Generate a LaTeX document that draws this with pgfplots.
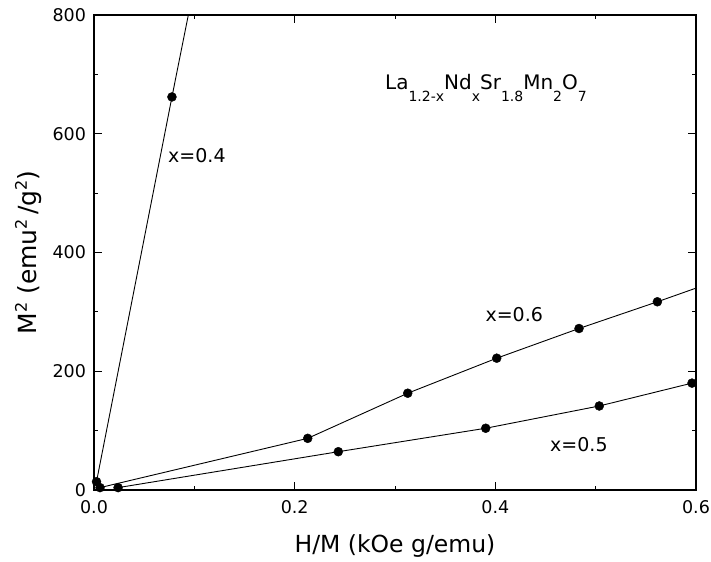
\documentclass[border=0pt]{standalone}
\usepackage{fontspec}
\setmainfont{DejaVu Sans}
\usepackage{pgfplots}
\pgfplotsset{compat=1.18}
\newcommand\sub[1]{\raisebox{-12bp}{\fontsize{14bp}{14bp}\selectfont #1}}
\newcommand\sups[1]{\raisebox{10bp}{\fontsize{16bp}{16bp}\selectfont #1}}
\begin{document}
\begin{tikzpicture}
\begin{axis}[
  scale only axis, width=602bp, height=475bp,
  xmin=0, xmax=0.6, ymin=0, ymax=800,
  xtick={0,0.2,0.4,0.6}, ytick={0,200,400,600,800},
  minor x tick num=1, minor y tick num=1,
  xtick pos=both, ytick pos=both,
  tick align=inside,
  major tick length=8bp, minor tick length=4bp,
  axis line style={line width=1.5bp},
  every tick/.style={line width=1bp, black},
  /pgf/number format/assume math mode=true,
  ticklabel style={font=\fontsize{17.5bp}{18bp}\selectfont, inner sep=1bp},
  xticklabel style={yshift=-9.8bp, /pgf/number format/.cd, fixed, fixed zerofill, precision=1},
  yticklabel style={xshift=-6.8bp, /pgf/number format/.cd, fixed, precision=0},
  xlabel={H/M (kOe g/emu)},
  ylabel={M\sups{2} (emu\sups{2}\,/g\sups{2})},
  every axis x label/.style={at={(axis description cs:0.5,-0.1326)}, anchor=base, font=\fontsize{23.5bp}{24bp}\selectfont},
  every axis y label/.style={at={(axis description cs:-0.0947,0.5)}, anchor=base, rotate=90, font=\fontsize{25bp}{26bp}\selectfont},
]
% x=0.4
\addplot[black, line width=0.9bp] coordinates {(0.0025,14) (0.0777,662) (0.094,800)};
\addplot[only marks, mark=*, mark size=4.5bp, black] coordinates {(0.0025,14) (0.0777,662)};
% x=0.6
\addplot[black, line width=0.9bp] coordinates {(0.006,4) (0.213,87) (0.3127,163) (0.4014,222) (0.4834,272) (0.5615,317) (0.6,340)};
\addplot[only marks, mark=*, mark size=4.5bp, black] coordinates {(0.006,4) (0.213,87) (0.3127,163) (0.4014,222) (0.4834,272) (0.5615,317)};
% x=0.5
\addplot[black, line width=0.9bp] coordinates {(0.024,4) (0.2435,64.5) (0.3904,104) (0.5036,141.5) (0.596,180)};
\addplot[only marks, mark=*, mark size=4.5bp, black] coordinates {(0.024,4) (0.2435,64.5) (0.3904,104) (0.5036,141.5) (0.596,180)};
\node[anchor=base west, font=\fontsize{19bp}{20bp}\selectfont, inner sep=0pt] at (axis cs:0.0738,552) {x=0.4};
\node[anchor=base west, font=\fontsize{19bp}{20bp}\selectfont, inner sep=0pt] at (axis cs:0.390,283) {x=0.6};
\node[anchor=base west, font=\fontsize{19bp}{20bp}\selectfont, inner sep=0pt] at (axis cs:0.4545,64.5) {x=0.5};
\node[anchor=base west, font=\fontsize{20bp}{20bp}\selectfont, inner sep=0pt] at (axis cs:0.29,674) {La\sub{1.2-x}Nd\sub{x}Sr\sub{1.8}Mn\sub{2}O\sub{7}};
\end{axis}
\pgfresetboundingbox
\path (-94bp,-72bp) rectangle (617bp,490bp);
\end{tikzpicture}
\end{document}
